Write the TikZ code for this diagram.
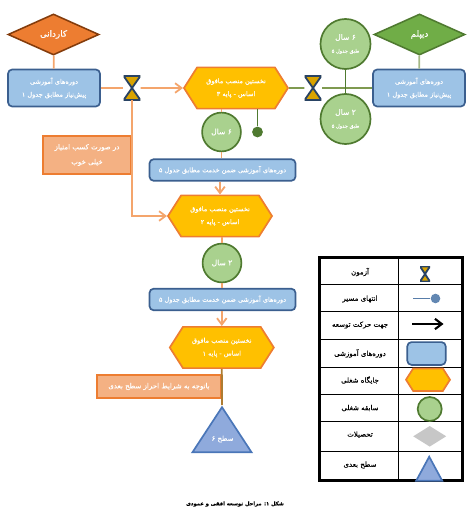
\documentclass[tikz,border=0pt]{standalone}
\usepackage{fontspec}
\usetikzlibrary{arrows.meta, calc, shapes.geometric, shapes.symbols}
\newfontfamily\farsi[Script=Arabic, FakeBold=0.25]{DejaVu Sans}
\TeXXeTstate=1
\newcommand{\fatxt}[1]{\beginR #1\endR}
\definecolor{cOrange}{HTML}{ED7D31}
\definecolor{cBrown}{HTML}{843C0C}
\definecolor{cLine}{HTML}{F4A56C}
\definecolor{cOlive}{HTML}{7F9A50}
\definecolor{cGreen}{HTML}{70AD47}
\definecolor{cGreenDk}{HTML}{4F7A30}
\definecolor{cCircle}{HTML}{A9D18E}
\definecolor{cBlue}{HTML}{9DC3E6}
\definecolor{cBlueDk}{HTML}{3B5F8F}
\definecolor{cGold}{HTML}{FFC000}
\definecolor{cPeach}{HTML}{F4B183}
\definecolor{cTri}{HTML}{8FAADC}
\definecolor{cTriDk}{HTML}{4A76B8}

\begin{document}
\begin{tikzpicture}[
            x=0.025cm, y=-0.025cm,
            % ----- Styles -----
                txt/.style={font=\farsi\fontsize{4.65}{9.2}\selectfont, align=center, text=white, inner sep=0pt},
                lgd/.style={font=\farsi\fontsize{5}{6}\selectfont, align=center, text=black, inner sep=0pt},
                edu/.style={diamond, aspect=2.2, inner sep=0pt, minimum width=2.275cm, minimum height=1.025cm, line width=1.1pt, txt, font=\farsi\fontsize{6.2}{8}\selectfont},
                course/.style={rectangle, rounded corners=3pt, draw=cBlueDk, fill=cBlue, line width=1.2pt, minimum height=0.925cm, minimum width=2.3cm, txt},
                coursewide/.style={course, minimum width=3.65cm, minimum height=0.54cm},
                job/.style={signal, signal to=west and east, signal pointer angle=115, draw=cOrange, fill=cGold, line width=1.2pt, minimum width=2.6cm, minimum height=1.03cm, txt},
                exper/.style={circle, draw=cGreenDk, fill=cCircle, line width=1.2pt, minimum size=0.97cm, txt},
                cond/.style={rectangle, draw=cOrange, fill=cPeach, line width=1.2pt, txt, font=\farsi\fontsize{5}{10.6}\selectfont},
                level/.style={isosceles triangle, isosceles triangle stretches, shape border rotate=90, draw=cTriDk, fill=cTri, line width=1.2pt, inner sep=0pt},
                hourglass/.style={rectangle, inner sep=0pt, minimum width=0.42cm, minimum height=0.6cm,
                    path picture={
                        \draw[fill=cGold!85!black, draw=cBlueDk!70!black, line width=1.3pt, line join=round]
                            (path picture bounding box.north west) -- (path picture bounding box.north east)
                            -- (path picture bounding box.south west) -- (path picture bounding box.south east) -- cycle;
                    }},
                flow/.style={cLine, line width=1.3pt},
                flowarr/.style={flow, -{Straight Barb[length=1.6mm, width=2.4mm]}},
                green/.style={cOlive, line width=1.3pt},
                sep/.style={black, line width=0.6pt}
            ]
            \useasboundingbox (0,0) rectangle (475,511);

% ===================== Entry: left side ========================
                \node[edu, fill=cOrange, draw=cBrown] (eduA) at (53.5, 34.5) {\fatxt{کاردانی}};
                \node[course] (preA) at (54, 88) {\fatxt{دوره‌های آموزشی}\\\fatxt{پیش‌نیاز مطابق جدول ۱}};
                \node[hourglass] (testA) at (132, 88) {};

% ===================== Entry: right side =======================
                \node[edu, fill=cGreen, draw=cGreenDk] (eduB) at (419.5, 34.5) {\fatxt{دیپلم}};
                \node[course] (preB) at (419, 88) {\fatxt{دوره‌های آموزشی}\\\fatxt{پیش‌نیاز مطابق جدول ۱}};
                \node[hourglass] (testB) at (313, 88) {};
                \node[exper] (yrsC) at (345.5, 44) [minimum size=1.25cm]
                    {{\fontsize{5.4}{8}\selectfont\fatxt{۶ سال}}\\{\fontsize{3.6}{6}\selectfont\fatxt{طبق جدول ۵}}};
                \node[exper] (yrsD) at (345.5, 119) [minimum size=1.25cm]
                    {{\fontsize{5.4}{8}\selectfont\fatxt{۲ سال}}\\{\fontsize{3.6}{6}\selectfont\fatxt{طبق جدول ۵}}};

% ===================== Main column =============================
                \node[job] (jobA) at (236, 88) {\fatxt{نخستین منصب مافوق}\\\fatxt{اساس - پایه ۳}};
                \node[exper, font=\farsi\fontsize{5.4}{8}\selectfont] (yrsA) at (221.5, 132) {\fatxt{۶ سال}};
                \node[circle, fill=cGreenDk, minimum size=0.27cm, inner sep=0pt] (stop) at (257.5, 132) {};
                \node[coursewide] (srvA) at (222.5, 170) {\fatxt{دوره‌های آموزشی ضمن خدمت مطابق جدول ۵}};
                \node[job] (jobB) at (220, 216) {\fatxt{نخستین منصب مافوق}\\\fatxt{اساس - پایه ۲}};
                \node[exper, font=\farsi\fontsize{5.4}{8}\selectfont] (yrsB) at (222, 263) {\fatxt{۲ سال}};
                \node[coursewide] (srvB) at (222.5, 299.5) {\fatxt{دوره‌های آموزشی ضمن خدمت مطابق جدول ۵}};
                \node[job] (jobC) at (221.8, 347.5) {\fatxt{نخستین منصب مافوق}\\\fatxt{اساس - پایه ۱}};

% ===================== Conditions ==============================
                \node[cond, minimum width=2.2cm, minimum height=0.95cm] (condA) at (87, 155)
                    {\fatxt{در صورت کسب امتیاز}\\\fatxt{خیلی خوب}};
                \node[cond, minimum width=3.1cm, minimum height=0.58cm] (condB) at (159, 386.5)
                    {\fatxt{باتوجه به شرایط احراز سطح بعدی}};

% ===================== Next level ==============================
                \node[level, minimum width=1.475cm, minimum height=1.125cm, anchor=apex] (top) at (222, 405) {};
                \node[txt, font=\farsi\fontsize{4.9}{7}\selectfont] (topT) at (222.5, 439) {\fatxt{سطح ۶}};

% ===================== Connectors ==============================
                \draw[flow] (eduA) -- (preA);
                \draw[flow] (preA) -- (testA);
                \draw[flowarr] (testA) -- (jobA);
                \draw[flowarr] (testA.south) |- (jobB.west);
                \draw[flow] (jobA.south -| yrsA) -- (yrsA);
                \draw[flow] (yrsA) -- (yrsA |- srvA.north);
                \draw[flowarr] (srvA.south -| jobB) -- (jobB.north);
                \draw[flow] (jobB.south -| yrsB) -- (yrsB);
                \draw[flow] (yrsB) -- (yrsB |- srvB.north);
                \draw[flowarr] (srvB.south -| jobC) -- (jobC.north);
                \draw[cOrange!60!cGreenDk, line width=1.3pt] (jobC.south) -- (top.apex);
                \draw[cOlive!70, line width=1.3pt] (eduB) -- (preB);
                \draw[green] (preB) -- (testB);
                \draw[green] (testB) -- (jobA);
                \draw[cGreenDk, line width=1.3pt] (yrsC) -- (yrsD);
                \draw[cGreenDk, line width=1.3pt] (jobA.south -| stop) -- (stop);

% ===================== Legend ==================================
                \draw[black, line width=1.5pt] (319.5, 257.5) rectangle (462.5, 480.5);
                \draw[sep] (398.5, 257.5) -- (398.5, 480.5);
                \foreach \ypos in {284, 311, 339.5, 367, 394.5, 421.5, 451}
                    \draw[sep] (319.5, \ypos) -- (462.5, \ypos);

                \node[lgd] (lgdT) at (360, 272) {\fatxt{آزمون}};
                \node[lgd] (lgdE) at (360, 299) {\fatxt{انتهای مسیر}};
                \node[lgd] (lgdD) at (360, 325) {\fatxt{جهت حرکت توسعه}};
                \node[lgd] (lgdC) at (360, 353.5) {\fatxt{دوره‌های آموزشی}};
                \node[lgd] (lgdJ) at (360, 380) {\fatxt{جایگاه شغلی}};
                \node[lgd] (lgdY) at (360, 408) {\fatxt{سابقه شغلی}};
                \node[lgd] (lgdU) at (360, 434.5) {\fatxt{تحصیلات}};
                \node[lgd] (lgdL) at (360, 465) {\fatxt{سطح بعدی}};

                \node[hourglass, minimum width=0.25cm, minimum height=0.38cm] (keyT) at (425, 274) {};
                \coordinate (keyEa) at (413, 298.5);
                \node[circle, fill=cBlueDk!60!cBlue, minimum size=0.24cm, inner sep=0pt] (keyE) at (435.5, 298.5) {};
                \draw[cBlueDk!70!cBlue, line width=1.3pt] (keyEa) -- (keyE);
                \coordinate (keyDa) at (412, 324);
                \coordinate (keyDb) at (443.5, 324);
                \draw[black, line width=1.5pt, -{Straight Barb[length=1.7mm, width=2.6mm]}] (keyDa) -- (keyDb);
                \node[course, minimum width=0.96cm, minimum height=0.57cm] (keyC) at (426.5, 353.5) {};
                \node[job, minimum width=1.1cm, minimum height=0.56cm] (keyJ) at (428, 379.7) {};
                \node[exper, minimum size=0.6cm] (keyY) at (429.7, 409) {};
                \node[diamond, fill=black!22, minimum width=0.83cm, minimum height=0.52cm, aspect=1.6, inner sep=0pt] (keyU) at (429.7, 436.3) {};
                \node[level, minimum width=0.65cm, minimum height=0.6cm, anchor=apex] (keyL) at (429.2, 454.5) {};

% ===================== Caption =================================
                \node[lgd, font=\farsi\bfseries\fontsize{3.7}{5}\selectfont] (caption) at (235, 504) {\fatxt{شکل ۱: مراحل توسعه افقی و عمودی}};

            \end{tikzpicture}
\end{document}
